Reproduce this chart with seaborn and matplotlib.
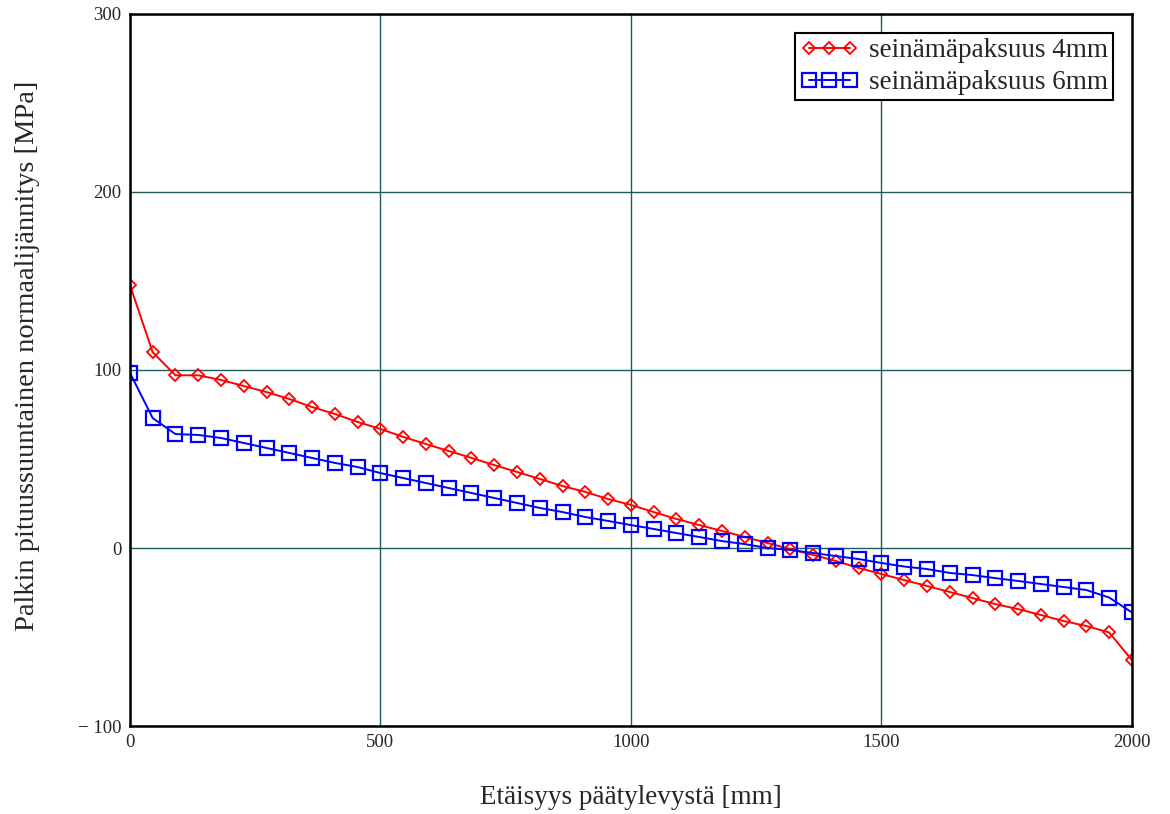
import pandas as pd
import matplotlib
matplotlib.use("Agg")
import matplotlib.pyplot as plt
import seaborn as sns

# Etäisyys päätylevystä [mm] (45 pistettä, väli 2000/44)
etaisyys = [0.0, 45.5, 90.9, 136.4, 181.8, 227.3, 272.7, 318.2, 363.6, 409.1,
            454.5, 500.0, 545.5, 590.9, 636.4, 681.8, 727.3, 772.7, 818.2, 863.6,
            909.1, 954.5, 1000.0, 1045.5, 1090.9, 1136.4, 1181.8, 1227.3, 1272.7, 1318.2,
            1363.6, 1409.1, 1454.5, 1500.0, 1545.5, 1590.9, 1636.4, 1681.8, 1727.3, 1772.7,
            1818.2, 1863.6, 1909.1, 1954.5, 2000.0]

# Normaalijännitys [MPa], seinämäpaksuus 4mm
jannitys_4mm = [147.8, 110.0, 97.0, 97.0, 94.4, 91.0, 87.6, 83.7, 79.2, 75.3,
                70.8, 66.9, 62.4, 58.4, 54.5, 50.6, 46.6, 42.7, 38.8, 34.8,
                31.5, 27.5, 24.2, 20.2, 16.3, 12.9, 9.6, 6.2, 2.8, -0.6,
                -3.9, -7.3, -11.2, -14.6, -18.0, -21.3, -24.7, -28.1, -31.5, -34.3,
                -37.6, -41.0, -43.8, -47.4, -63.0]

# Normaalijännitys [MPa], seinämäpaksuus 6mm
jannitys_6mm = [98.5, 73.0, 64.0, 63.5, 61.8, 59.0, 56.2, 53.4, 50.6, 47.8,
                45.5, 42.1, 39.3, 36.5, 33.7, 30.9, 28.1, 25.3, 22.5, 20.2,
                17.4, 15.2, 12.9, 10.7, 8.4, 6.2, 3.9, 2.2, 0.0, -1.1,
                -2.8, -4.5, -6.2, -8.4, -10.4, -11.8, -14.0, -15.2, -16.9, -18.5,
                -20.2, -21.9, -23.6, -27.8, -36.2]

x_ticks = [0, 500, 1000, 1500, 2000]
y_ticks = [-100, 0, 100, 200, 300]
y_tick_labels = ["\u2212 100", "0", "100", "200", "300"]


def main() -> None:
    sns.set_theme(style="white")
    plt.rcParams["font.family"] = ["Liberation Serif", "DejaVu Serif"]

    df4 = pd.DataFrame({"x": etaisyys, "y": jannitys_4mm})
    df6 = pd.DataFrame({"x": etaisyys, "y": jannitys_6mm})

    fig = plt.figure(figsize=(11.7, 8.14), dpi=100)
    ax = fig.add_axes([0.111, 0.108, 0.8565, 0.875])

    sns.lineplot(data=df4, x="x", y="y", ax=ax, color="#ff0000", linewidth=1.4,
                 marker="D", markersize=6.5, markerfacecolor="none",
                 markeredgecolor="#ff0000", markeredgewidth=1.3,
                 label="seinämäpaksuus 4mm")
    sns.lineplot(data=df6, x="x", y="y", ax=ax, color="#0000ff", linewidth=1.4,
                 marker="s", markersize=9.5, markerfacecolor="none",
                 markeredgecolor="#0000ff", markeredgewidth=1.6,
                 label="seinämäpaksuus 6mm")

    ax.set_xlim(0, 2000)
    ax.set_ylim(-100, 300)
    ax.set_xticks(x_ticks)
    ax.set_yticks(y_ticks)
    ax.set_yticklabels(y_tick_labels)
    ax.tick_params(axis="both", length=0, labelsize=13.5, pad=6)

    ax.grid(True, color="#1f5a5a", linewidth=1.0)
    for side in ax.spines.values():
        side.set_color("black")
        side.set_linewidth(1.8)

    ax.set_xlabel("Etäisyys päätylevystä [mm]", fontsize=19.5, labelpad=24)
    ax.set_ylabel("Palkin pituussuuntainen normaalijännitys [MPa]", fontsize=20.5)
    ax.yaxis.set_label_coords(-0.09, 0.52)

    leg = ax.legend(loc="upper right", fontsize=19.5, numpoints=3, frameon=True,
                    fancybox=False, framealpha=1, borderpad=0.2, handlelength=2.1,
                    handletextpad=0.4, labelspacing=0.25, borderaxespad=0.7)
    leg.get_frame().set_edgecolor("black")
    leg.get_frame().set_linewidth(1.5)

    fig.savefig("out.png", dpi=100)


if __name__ == "__main__":
    main()
